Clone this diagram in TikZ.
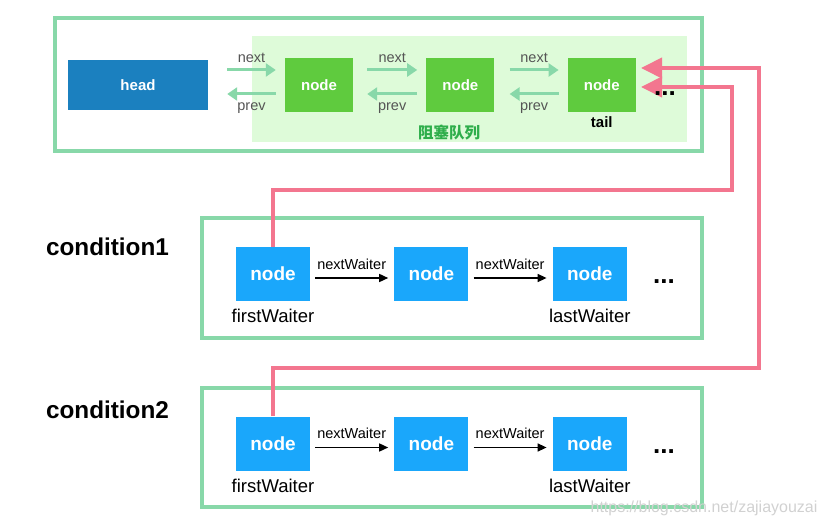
\documentclass[tikz,border=0pt]{standalone}
\usepackage{fontspec}
\setmainfont{Liberation Sans}
\newfontfamily\cjk{Noto Sans CJK SC}
\usetikzlibrary{arrows.meta, positioning}

\definecolor{framegreen}{HTML}{88D8A9}
\definecolor{queuebg}{HTML}{DEFBD9}
\definecolor{headblue}{HTML}{1B80BF}
\definecolor{nodegreen}{HTML}{5FCB3E}
\definecolor{waitblue}{HTML}{1AA7FB}
\definecolor{wakepink}{HTML}{F3768F}
\definecolor{linkgray}{HTML}{555555}
\definecolor{queuetext}{HTML}{2EAE4B}

\tikzset{
  headbox/.style={fill=headblue, text=white, inner sep=0pt, minimum width=140pt, minimum height=50pt, font=\fontsize{15}{18}\selectfont\bfseries},
  qnode/.style={fill=nodegreen, text=white, inner sep=0pt, minimum width=68pt, minimum height=54pt, font=\fontsize{15}{18}\selectfont\bfseries},
  wnode/.style={fill=waitblue, text=white, inner sep=0pt, minimum width=74pt, minimum height=54pt, font=\fontsize{19}{22}\selectfont\bfseries},
  frame/.style={draw=framegreen, line width=4pt},
  linkarrow/.style={draw=framegreen, line width=3pt, -{Triangle[length=10pt,width=13pt]}},
  waitarrow/.style={draw=black, line width=1.5pt, -{Triangle[length=9pt,width=8pt]}},
  wakeline/.style={draw=wakepink, line width=4pt, -{Triangle[length=21pt,width=20pt]}},
  linklabel/.style={text=linkgray, inner sep=1pt, font=\fontsize{14.5}{17}\selectfont},
  waitlabel/.style={inner sep=1pt, font=\fontsize{14.5}{17}\selectfont},
  roleLabel/.style={inner sep=1pt, font=\fontsize{18.5}{22}\selectfont},
  condLabel/.style={inner sep=0pt, font=\fontsize{24.3}{28}\selectfont\bfseries},
  moreDots/.style={inner sep=0pt, font=\fontsize{26}{28}\selectfont\bfseries},
}

\begin{document}
\begin{tikzpicture}[x=1pt, y=-1pt]
\useasboundingbox (0,0) rectangle (827,526);

% AQS: head + blocking queue
\fill[queuebg] (252,36) rectangle (687,142);
\draw[frame] (55,18) rectangle (702,151);
\node[headbox] (head) at (138,85) {head};
\node[qnode] (q1) at (319,85) {node};
\node[qnode, right=73pt of q1] (q2) {node};
\node[qnode, right=73pt of q2] (q3) {node};
\node[linklabel, below=3pt of q3, text=black, font=\fontsize{15}{18}\selectfont\bfseries] (tail) {tail};
\node[text=queuetext, inner sep=0pt, font=\cjk\fontsize{15.5}{18}\selectfont\bfseries] (queuename) at (449,133) {阻塞队列};

\draw[linkarrow] ([xshift=19pt,yshift=15pt]head.east) -- node[linklabel, above=5pt] (n1) {next} ([xshift=-9pt,yshift=15pt]q1.west);
\draw[linkarrow] ([xshift=-9pt,yshift=-9pt]q1.west) -- node[linklabel, below=6pt] (p1) {prev} ([xshift=19pt,yshift=-9pt]head.east);
\draw[linkarrow] ([xshift=14pt,yshift=15pt]q1.east) -- node[linklabel, above=5pt] (n2) {next} ([xshift=-9pt,yshift=15pt]q2.west);
\draw[linkarrow] ([xshift=-9pt,yshift=-9pt]q2.west) -- node[linklabel, below=6pt] (p2) {prev} ([xshift=14pt,yshift=-9pt]q1.east);
\draw[linkarrow] ([xshift=15pt,yshift=15pt]q2.east) -- node[linklabel, above=5pt] (n3) {next} ([xshift=-9pt,yshift=15pt]q3.west);
\draw[linkarrow] ([xshift=-9pt,yshift=-9pt]q3.west) -- node[linklabel, below=6pt] (p3) {prev} ([xshift=15pt,yshift=-9pt]q2.east);

% condition queues
\node[condLabel] (cond1) at (107.5,246.5) {condition1};
\draw[frame] (202,218) rectangle (702,338);
\node[wnode] (w1) at (273,274) {node};
\node[wnode, right=84pt of w1] (w2) {node};
\node[wnode, right=84pt of w2] (w3) {node};
\node[moreDots] (wdots1) at (664,282) {...};
\node[roleLabel, below=7pt of w1] (first1) {firstWaiter};
\node[roleLabel, below=7pt of w3] (last1) {lastWaiter};
\draw[waitarrow] ([xshift=5pt,yshift=-4pt]w1.east) -- node[waitlabel, above=7pt] (nw1) {nextWaiter} ([xshift=-6pt,yshift=-4pt]w2.west);
\draw[waitarrow] ([xshift=5pt,yshift=-4pt]w2.east) -- node[waitlabel, above=7pt] (nw2) {nextWaiter} ([xshift=-6pt,yshift=-4pt]w3.west);

\node[condLabel] (cond2) at (107.5,410) {condition2};
\draw[frame] (202,388) rectangle (702,507);
\node[wnode] (w4) at (273,443.5) {node};
\node[wnode, right=84pt of w4] (w5) {node};
\node[wnode, right=84pt of w5] (w6) {node};
\node[moreDots] (wdots2) at (664,452) {...};
\node[roleLabel, below=7pt of w4] (first2) {firstWaiter};
\node[roleLabel, below=7pt of w6] (last2) {lastWaiter};
\draw[waitarrow] ([xshift=5pt,yshift=-4pt]w4.east) -- node[waitlabel, above=7pt] (nw3) {nextWaiter} ([xshift=-6pt,yshift=-4pt]w5.west);
\draw[waitarrow] ([xshift=5pt,yshift=-4pt]w5.east) -- node[waitlabel, above=7pt] (nw4) {nextWaiter} ([xshift=-6pt,yshift=-4pt]w6.west);

% signal: firstWaiter moves to the tail of the blocking queue
\coordinate (turn1) at (732,190);
\coordinate (turn2) at (759,368);
\draw[wakeline] (w1.north) |- (turn1) |- ([xshift=5pt,yshift=-2pt]q3.east);
\draw[wakeline] (w4.north) |- (turn2) |- ([xshift=5pt,yshift=17pt]q3.east);
\node[moreDots] (qdots) at (665,94) {...};

\node[text=black!18, inner sep=0pt, font=\fontsize{16}{18}\selectfont] (mark) at (704,508) {https://blog.csdn.net/zajiayouzai};
\end{tikzpicture}
\end{document}
